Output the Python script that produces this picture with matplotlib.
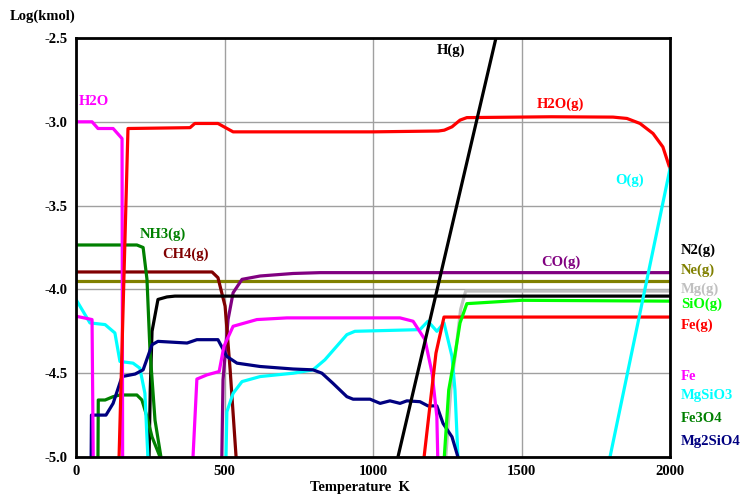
import numpy as np
import matplotlib
matplotlib.use('Agg')
from matplotlib import pyplot as plt

plt.rcParams['font.family'] = ['Liberation Serif', 'DejaVu Serif']
plt.rcParams['font.weight'] = 'bold'

# temperature (K) / log(kmol) pairs
h2o_t = [0, 54, 74, 125, 155, 157]
h2o_v = [-3.0, -3.0, -3.04, -3.04, -3.1, -5.0]

h2og_t = [145, 175, 384, 400, 478, 529, 1000, 1220, 1240, 1266, 1293, 1316, 1600, 1808,
          1855, 1899, 1943, 1976, 2000]
h2og_v = [-5.0, -3.04, -3.035, -3.01, -3.01, -3.06, -3.06, -3.055, -3.05, -3.03, -2.99, -2.975, -2.97, -2.972,
          -2.98, -3.01, -3.07, -3.15, -3.28]

hg_t = [1084, 1414]
hg_v = [-5.0, -2.5]

og_t = [1798, 2000]
og_v = [-5.0, -3.28]

n2_t = [246, 250, 256, 276, 306, 333, 2000]
n2_v = [-5.0, -4.6, -4.25, -4.06, -4.045, -4.04, -4.04]

nh3_t = [0, 205, 226, 239, 249, 266, 286]
nh3_v = [-3.735, -3.735, -3.75, -3.94, -4.36, -4.78, -5.0]

ch4_t = [0, 458, 478, 502, 519, 539]
ch4_v = [-3.896, -3.896, -3.93, -4.1, -4.48, -5.0]

ne_t = [0, 2000]
ne_v = [-3.95, -3.95]

co_t = [491, 495, 512, 529, 559, 620, 731, 822, 2000]
co_v = [-5.0, -4.54, -4.18, -4.02, -3.94, -3.92, -3.905, -3.9, -3.9]

mgg_t = [1245, 1262, 1280, 1295, 1312, 2000]
mgg_v = [-5.0, -4.6, -4.35, -4.12, -4.01, -4.01]

sio_t = [1240, 1255, 1275, 1293, 1316, 1500, 2000]
sio_v = [-5.0, -4.6, -4.4, -4.2, -4.085, -4.065, -4.07]

feg_t = [1172, 1212, 1239, 2000]
feg_v = [-5.0, -4.38, -4.165, -4.165]

fe1_t = [0, 54, 58]
fe1_v = [-4.16, -4.18, -5.0]
fe2_t = [394, 407, 441, 482, 498, 529, 609, 710, 1091, 1135, 1175, 1199, 1215, 1218]
fe2_v = [-5.0, -4.535, -4.51, -4.49, -4.34, -4.22, -4.18, -4.17, -4.17, -4.19, -4.3, -4.5, -4.76, -5.0]

mgsio3_1t = [0, 47, 98, 131, 148, 192, 215, 232, 242]
mgsio3_1v = [-4.06, -4.2, -4.21, -4.26, -4.43, -4.44, -4.47, -4.62, -5.0]
mgsio3_2t = [505, 508, 529, 559, 620, 731, 798, 838, 912, 939, 1158, 1185, 1215, 1239, 1266, 1276, 1286]
mgsio3_2v = [-5.0, -4.73, -4.62, -4.55, -4.52, -4.5, -4.48, -4.42, -4.27, -4.25, -4.24, -4.19, -4.25, -4.2, -4.4, -4.6, -5.0]

fe3o4_t = [74, 75, 98, 125, 148, 205, 222, 239, 256, 283]
fe3o4_v = [-5.0, -4.66, -4.66, -4.64, -4.63, -4.63, -4.66, -4.76, -4.88, -5.0]

mg2sio4_t = [51, 52, 101, 125, 155, 199, 226, 256, 276, 374, 407, 478, 508, 542, 620, 731, 798,
             828, 865, 912, 933, 990, 1024, 1057, 1091, 1114, 1158, 1185, 1215, 1236, 1266, 1286]
mg2sio4_v = [-5.0, -4.75, -4.75, -4.68, -4.52, -4.505, -4.48, -4.33, -4.31, -4.32, -4.3, -4.3, -4.4, -4.44, -4.46, -4.475, -4.48,
             -4.5, -4.56, -4.64, -4.655, -4.655, -4.68, -4.665, -4.68, -4.665, -4.67, -4.695, -4.695, -4.8, -4.88, -5.0]

fig = plt.figure(figsize=(7.46, 4.95), dpi=100)
ax = fig.add_axes([76/746, 1-457/495, 594/746, 419/495])

lw = 2.3
ax.plot(ne_t, ne_v, color='#808000', lw=lw)
ax.plot(mgg_t, mgg_v, color='#c0c0c0', lw=lw)
ax.plot(co_t, co_v, color='#800080', lw=lw)
ax.plot(ch4_t, ch4_v, color='#800000', lw=lw)
ax.plot(n2_t, n2_v, color='black', lw=lw)
ax.plot(nh3_t, nh3_v, color='#008000', lw=lw)
ax.plot(fe3o4_t, fe3o4_v, color='#008000', lw=lw)
ax.plot(mgsio3_1t, mgsio3_1v, color='cyan', lw=lw)
ax.plot(mgsio3_2t, mgsio3_2v, color='cyan', lw=lw)
ax.plot(mg2sio4_t, mg2sio4_v, color='#000080', lw=lw)
ax.plot(fe1_t, fe1_v, color='magenta', lw=lw)
ax.plot(fe2_t, fe2_v, color='magenta', lw=lw)
ax.plot(h2o_t, h2o_v, color='magenta', lw=lw)
ax.plot(h2og_t, h2og_v, color='red', lw=lw)
ax.plot(feg_t, feg_v, color='red', lw=lw)
ax.plot(sio_t, sio_v, color='#00ff00', lw=lw)
ax.plot(hg_t, hg_v, color='black', lw=lw)
ax.plot(og_t, og_v, color='cyan', lw=lw)

ax.set_xlim(0, 2000)
ax.set_ylim(-5.0, -2.5)
ax.set_xticks([0, 500, 1000, 1500, 2000])
ax.set_yticks([-5.0, -4.5, -4.0, -3.5, -3.0, -2.5])
ax.set_yticklabels(['-5.0', '-4.5', '-4.0', '-3.5', '-3.0', '-2.5'])
ax.grid(True, color='#a0a0a0', lw=1)
ax.set_axisbelow(True)
ax.tick_params(length=0, labelsize=10.5, pad=6)
for s in ax.spines.values():
    s.set_linewidth(2)

# labels inside the plot
fs = 10.5
ax.text(10, -2.88, 'H2O', color='magenta', fontsize=fs, fontweight='bold', va='center')
ax.text(1630, -2.895, 'H2O(g)', color='red', fontsize=fs, fontweight='bold', va='center', ha='center')
ax.text(1215, -2.575, 'H(g)', color='black', fontsize=fs, fontweight='bold', va='center')
ax.text(1815, -3.35, 'O(g)', color='cyan', fontsize=fs, fontweight='bold', va='center')
ax.text(215, -3.67, 'NH3(g)', color='#008000', fontsize=fs, fontweight='bold', va='center')
ax.text(290, -3.79, 'CH4(g)', color='#800000', fontsize=fs, fontweight='bold', va='center')
ax.text(1565, -3.84, 'CO(g)', color='#800080', fontsize=fs, fontweight='bold', va='center')

# labels to the right
right = [('N2(g)', 'black', 250), ('Ne(g)', '#808000', 270), ('Mg(g)', '#c0c0c0', 289),
         ('SiO(g)', '#00ff00', 304), ('Fe(g)', 'red', 325), ('Fe', 'magenta', 377),
         ('MgSiO3', 'cyan', 396), ('Fe3O4', '#008000', 418), ('Mg2SiO4', '#000080', 442)]
for name, col, py in right:
    fig.text(681/746, 1-py/495, name, color=col, fontsize=fs, fontweight='bold', va='center')

fig.text(10/746, 1-16/495, 'Log(kmol)', fontsize=fs, fontweight='bold', va='center')
fig.text(360/746, 1-488/495, 'Temperature  K', fontsize=fs, fontweight='bold', va='center', ha='center')

fig.savefig('out.png', dpi=100)
